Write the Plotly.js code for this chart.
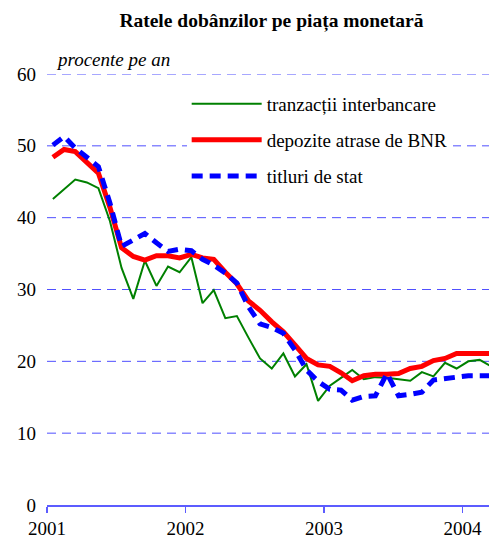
<!DOCTYPE html>
<html>
<head>
<meta charset="utf-8">
<script src="https://cdn.plot.ly/plotly-3.0.1.min.js"></script>
<style>html,body{margin:0;padding:0;background:#fff;}#chart{width:489px;height:538px;}</style>
</head>
<body>
<div id="chart"></div>
<script>
var months = ["2001-01","2001-02","2001-03","2001-04","2001-05","2001-06","2001-07","2001-08","2001-09","2001-10","2001-11","2001-12",
              "2002-01","2002-02","2002-03","2002-04","2002-05","2002-06","2002-07","2002-08","2002-09","2002-10","2002-11","2002-12",
              "2003-01","2003-02","2003-03","2003-04","2003-05","2003-06","2003-07","2003-08","2003-09","2003-10","2003-11","2003-12",
              "2004-01","2004-02","2004-03"];
var interbancare = [42.6,44.0,45.3,44.9,44.1,39.5,33.0,28.7,34.0,30.5,33.2,32.4,
                    34.5,28.1,29.9,26.0,26.3,23.3,20.4,19.0,21.1,17.9,19.6,14.5,
                    16.6,17.7,18.8,17.5,17.8,17.7,17.5,17.3,18.5,17.9,19.8,19.0,
                    20.0,20.2,19.3];
var depoziteBNR = [48.4,49.5,49.2,47.8,46.2,41.4,35.8,34.6,34.1,34.7,34.7,34.4,
                   34.9,34.4,34.2,32.4,30.8,28.4,27.1,25.5,24.1,22.3,20.4,19.5,
                   19.3,18.4,17.3,18.0,18.2,18.2,18.3,19.0,19.3,20.1,20.4,21.1,
                   21.1,21.1,21.1];
var titluriStat = [50.1,51.3,49.7,48.5,47.1,42.0,36.0,36.9,37.8,36.5,35.3,35.6,
                   35.4,34.2,33.4,32.3,30.9,27.6,25.2,24.7,23.9,21.6,18.8,17.2,
                   16.1,16.0,14.6,15.1,15.2,18.3,15.2,15.4,15.7,17.4,17.6,17.9,
                   18.0,18.0,18.0];
var seriesNames = ["tranzacții interbancare","depozite atrase de BNR","titluri de stat"];
var yearTicks = ["2001-01-01","2002-01-01","2003-01-01","2004-01-01"];
var yearLabels = ["2001","2002","2003","2004"];
var yTicks = [0,10,20,30,40,50,60];

var serif = "'Liberation Serif','Times New Roman',Times,serif";
var gridBlue = "rgb(80,80,255)";
var common = {x: months, type: "scatter", mode: "lines", xperiod: "M1", xperiodalignment: "middle"};

var traces = [
  Object.assign({}, common, {y: interbancare, name: seriesNames[0], legendgroup: "a", line: {color: "#008000", width: 2}}),
  Object.assign({}, common, {y: depoziteBNR, name: seriesNames[1], legendgroup: "b", line: {color: "#ff0000", width: 5}}),
  Object.assign({}, common, {y: titluriStat, name: seriesNames[2], legendgroup: "c", line: {color: "#0000ff", width: 5, dash: "11px,7px"}})
];

var gridShapes = yTicks.filter(function (v) { return v > 0; }).map(function (v) {
  return {type: "line", xref: "paper", yref: "y", x0: 0, x1: 1, y0: v, y1: v, layer: "below",
          line: {color: gridBlue, width: 1, dash: "9px,6px"}};
});

var layout = {
  width: 489, height: 538,
  margin: {l: 47, r: 0, t: 74, b: 33},
  paper_bgcolor: "#fff", plot_bgcolor: "#fff",
  font: {family: serif, size: 18, color: "#000"},
  title: {text: "<b>Ratele dobânzilor pe piața monetară</b>", font: {family: serif, size: 19.5, color: "#000"},
          x: 0.555, xref: "container", xanchor: "center", y: 0.963, yref: "container", yanchor: "middle"},
  xaxis: {type: "date", range: ["2001-01-01", "2004-03-11"], tickmode: "array", tickvals: yearTicks, ticktext: yearLabels,
          showgrid: false, zeroline: false, showline: true, linecolor: "rgb(92,92,255)", linewidth: 1.5,
          ticks: "outside", ticklen: 6, tickcolor: "rgb(92,92,255)", tickwidth: 1.5,
          tickfont: {family: serif, size: 19, color: "#000"}, fixedrange: true},
  yaxis: {range: [0, 60], tickmode: "array", tickvals: yTicks, showgrid: false,
          zeroline: false, showline: false, ticks: "", ticklabelstandoff: 10,
          tickfont: {family: serif, size: 19, color: "#000"}, fixedrange: true},
  shapes: gridShapes,
  legend: {x: 0.316, xanchor: "left", y: 0.975, yanchor: "top", bgcolor: "#fff", borderwidth: 0, itemwidth: 70,
           traceorder: "grouped", tracegroupgap: 8.5, font: {family: serif, size: 19, color: "#000"}},
  showlegend: true,
  annotations: [{text: "<i>procente pe an</i>", xref: "paper", yref: "paper", x: 0.016, xanchor: "left",
                 y: 1.0325, yanchor: "middle", showarrow: false, font: {family: serif, size: 19, color: "#000"}}]
};

Plotly.newPlot("chart", traces, layout, {displayModeBar: false, staticPlot: true});
</script>
</body>
</html>
